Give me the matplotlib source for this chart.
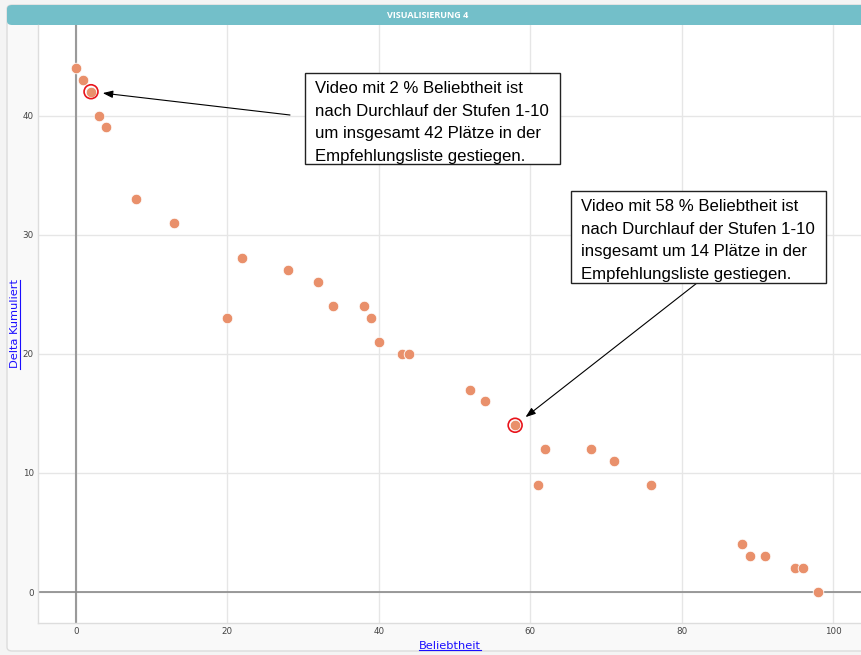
import matplotlib
matplotlib.use("Agg")
import matplotlib.pyplot as plt
from matplotlib.patches import Rectangle, FancyBboxPatch
from matplotlib.lines import Line2D

# ---- data ----
beliebtheit = [0, 1, 2, 3, 4, 8, 13, 20, 22, 28, 32, 34, 38, 39, 40, 43, 44,
               52, 54, 58, 61, 62, 68, 71, 76, 88, 89, 91, 95, 96, 98]
delta_kum = [44, 43, 42, 40, 39, 33, 31, 23, 28, 27, 26, 24, 24, 23, 21, 20, 20,
             17, 16, 14, 9, 12, 12, 11, 9, 4, 3, 3, 2, 2, 0]
highlight_x = [2, 58]
highlight_y = [42, 14]
x_ticks = [0, 20, 40, 60, 80, 100]
y_ticks = [0, 10, 20, 30, 40]
title = "VISUALISIERUNG 4"
x_label = "Beliebtheit"
y_label = "Delta Kumuliert"
note1 = "Video mit 2 % Beliebtheit ist\nnach Durchlauf der Stufen 1-10\num insgesamt 42 Plätze in der\nEmpfehlungsliste gestiegen."
note2 = "Video mit 58 % Beliebtheit ist\nnach Durchlauf der Stufen 1-10\ninsgesamt um 14 Plätze in der\nEmpfehlungsliste gestiegen."

W, H = 862, 655
fig = plt.figure(figsize=(W / 100, H / 100), dpi=100)
fig.patch.set_facecolor("#f4f4f4")

def fx(px):
    return px / W

def fy(py):
    return 1 - py / H

# panel background
fig.patches.append(FancyBboxPatch((fx(7), fy(651)), fx(870 - 7), fy(5) - fy(651),
                                  boxstyle="round,pad=0,rounding_size=0.006",
                                  transform=fig.transFigure, facecolor="#f9f9f9",
                                  edgecolor="#dcdcdc", lw=1, zorder=-3))
# header bar
fig.patches.append(FancyBboxPatch((fx(7), fy(25)), fx(870 - 7), fy(5) - fy(25),
                                  boxstyle="round,pad=0,rounding_size=0.006",
                                  transform=fig.transFigure, facecolor="#73bfc9",
                                  edgecolor="none", zorder=-2))
fig.text(fx(428), fy(15), title, color="white", fontsize=6.5, fontweight="bold",
         ha="center", va="center", family="Open Sans")

ax = fig.add_axes([fx(38), fy(623), fx(862) - fx(38), fy(25) - fy(623)])
ax.set_facecolor("white")
ax.set_xlim(-5.0, 103.8)
ax.set_ylim(-2.6, 47.6)
ax.set_xticks(x_ticks)
ax.set_yticks(y_ticks)
ax.tick_params(length=0, labelsize=6.3, labelcolor="#444444", pad=3)
ax.grid(True, color="#e6e6e6", lw=1, zorder=0)
ax.set_axisbelow(True)
for s in ["top", "right"]:
    ax.spines[s].set_visible(False)
for s in ["left", "bottom"]:
    ax.spines[s].set_color("#dddddd")
    ax.spines[s].set_linewidth(1)

ax.axvline(0, color="#9a9a9a", lw=1.5, zorder=1)
ax.axhline(0, color="#8a8a8a", lw=1.2, zorder=1)

ax.scatter(beliebtheit, delta_kum, s=58, color="#e9906b", edgecolors="white",
           linewidths=0.6, zorder=3)
ax.scatter(highlight_x, highlight_y, s=100, facecolors="none", edgecolors="#e8141b",
           linewidths=1.2, zorder=4)

xl = ax.set_xlabel(x_label, fontsize=8.2, color="#1a0dff", labelpad=3.5)
yl = ax.set_ylabel(y_label, fontsize=8.2, color="#1a0dff", labelpad=1.5)

# annotation boxes
for (x0, y0, x1, y1), txt in [((305, 73, 560, 164), note1), ((571, 191, 826, 283), note2)]:
    fig.patches.append(Rectangle((fx(x0), fy(y1)), fx(x1 - x0), fy(y0) - fy(y1),
                                 transform=fig.transFigure, facecolor="white",
                                 edgecolor="#222222", lw=1, zorder=5))
    fig.text(fx(x0 + 10), fy(y0 + 8), txt, fontsize=12.1, family="Liberation Sans",
             ha="left", va="top", linespacing=1.64, color="black", zorder=6)

arrow_kw = dict(arrowstyle="-|>,head_length=0.6,head_width=0.22", color="black", lw=0.8)
ax.annotate("", xy=(highlight_x[0], highlight_y[0]), xytext=(fx(290), fy(115)),
            textcoords="figure fraction",
            arrowprops=dict(shrinkA=0, shrinkB=8.5, **arrow_kw), zorder=6)
ax.annotate("", xy=(highlight_x[1], highlight_y[1]), xytext=(fx(697), fy(283)),
            textcoords="figure fraction",
            arrowprops=dict(shrinkA=0, shrinkB=9.5, **arrow_kw), zorder=6)

# underline axis labels
fig.canvas.draw()
r = fig.canvas.get_renderer()
bx = xl.get_window_extent(r)
fig.add_artist(Line2D([bx.x0 / W, bx.x1 / W], [(bx.y0 + 1) / H] * 2,
                      transform=fig.transFigure, color="#1a0dff", lw=0.8))
by = yl.get_window_extent(r)
fig.add_artist(Line2D([(by.x1 - 0.5) / W] * 2, [by.y0 / H, by.y1 / H],
                      transform=fig.transFigure, color="#1a0dff", lw=0.8))

fig.savefig("out.png", dpi=100, facecolor=fig.get_facecolor())
